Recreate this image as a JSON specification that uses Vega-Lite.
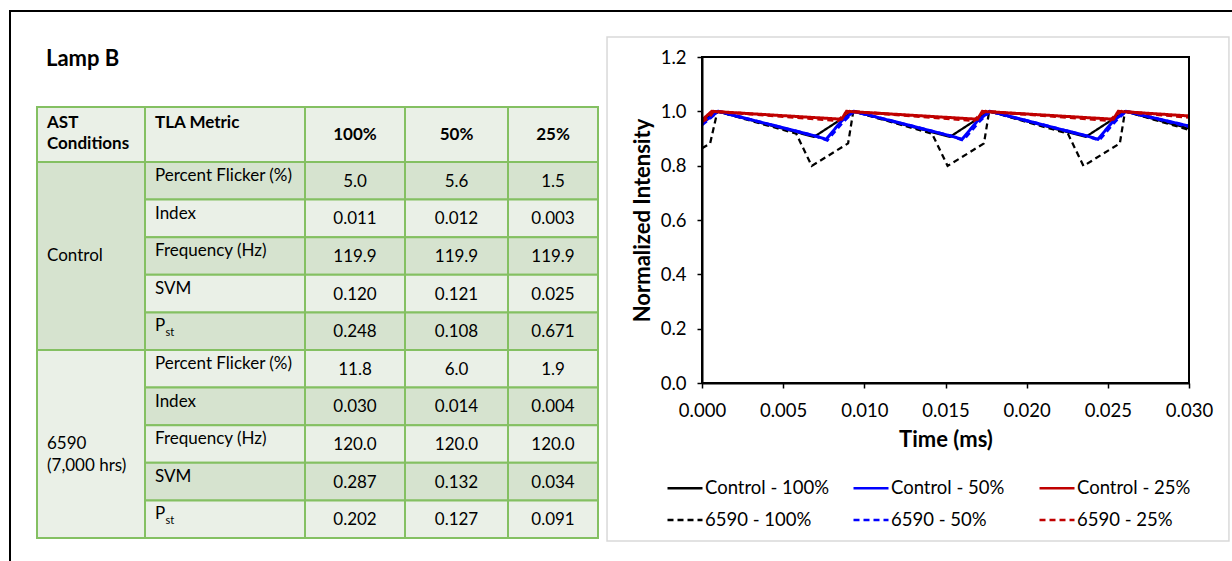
{
  "$schema": "https://vega.github.io/schema/vega-lite/v6.json",
  "width": 1240,
  "height": 560,
  "padding": {"left": 10, "top": 11, "right": 0, "bottom": 0},
  "autosize": {"type": "none"},
  "background": "white",
  "title": {
    "text": "Lamp B",
    "anchor": "start",
    "frame": "group",
    "dx": 36,
    "dy": 64,
    "font": "Lato",
    "fontSize": 22,
    "fontWeight": "bold",
    "color": "black"
  },
  "config": {
    "view": {"stroke": "black", "strokeWidth": 2},
    "font": "Lato",
    "text": {"font": "Lato", "color": "black"},
    "legend": {
      "orient": "none",
      "legendX": 656,
      "legendY": 458,
      "direction": "horizontal",
      "columns": 3,
      "gridAlign": "all",
      "symbolType": "stroke",
      "symbolSize": 1225,
      "symbolStrokeWidth": 2.5,
      "labelFont": "Lato",
      "labelFontSize": 18.5,
      "labelColor": "black",
      "labelOffset": 1,
      "labelLimit": 300,
      "columnPadding": 18,
      "rowPadding": 3,
      "padding": 0
    }
  },
  "datasets": {
    "cells": [
      {"c0": 0, "c1": 1, "r0": 0, "r1": 1, "kind": "corner", "text": "AST\nConditions"},
      {"c0": 1, "c1": 2, "r0": 0, "r1": 1, "kind": "corner", "text": "TLA Metric"},
      {"c0": 2, "c1": 3, "r0": 0, "r1": 1, "kind": "head", "text": "100%"},
      {"c0": 3, "c1": 4, "r0": 0, "r1": 1, "kind": "head", "text": "50%"},
      {"c0": 4, "c1": 5, "r0": 0, "r1": 1, "kind": "head", "text": "25%"},
      {"c0": 0, "c1": 1, "r0": 1, "r1": 6, "kind": "group", "text": "Control"},
      {"c0": 0, "c1": 1, "r0": 6, "r1": 11, "kind": "group", "text": "6590\n(7,000 hrs)"},
      {"c0": 1, "c1": 2, "r0": 1, "r1": 2, "kind": "metric", "text": "Percent Flicker (%)"},
      {"c0": 1, "c1": 2, "r0": 2, "r1": 3, "kind": "metric", "text": "Index"},
      {"c0": 1, "c1": 2, "r0": 3, "r1": 4, "kind": "metric", "text": "Frequency (Hz)"},
      {"c0": 1, "c1": 2, "r0": 4, "r1": 5, "kind": "metric", "text": "SVM"},
      {"c0": 1, "c1": 2, "r0": 5, "r1": 6, "kind": "metric", "text": "P", "sub": "st"},
      {"c0": 1, "c1": 2, "r0": 6, "r1": 7, "kind": "metric", "text": "Percent Flicker (%)"},
      {"c0": 1, "c1": 2, "r0": 7, "r1": 8, "kind": "metric", "text": "Index"},
      {"c0": 1, "c1": 2, "r0": 8, "r1": 9, "kind": "metric", "text": "Frequency (Hz)"},
      {"c0": 1, "c1": 2, "r0": 9, "r1": 10, "kind": "metric", "text": "SVM"},
      {"c0": 1, "c1": 2, "r0": 10, "r1": 11, "kind": "metric", "text": "P", "sub": "st"},
      {"c0": 2, "c1": 3, "r0": 1, "r1": 2, "kind": "value", "text": "5.0"},
      {"c0": 3, "c1": 4, "r0": 1, "r1": 2, "kind": "value", "text": "5.6"},
      {"c0": 4, "c1": 5, "r0": 1, "r1": 2, "kind": "value", "text": "1.5"},
      {"c0": 2, "c1": 3, "r0": 2, "r1": 3, "kind": "value", "text": "0.011"},
      {"c0": 3, "c1": 4, "r0": 2, "r1": 3, "kind": "value", "text": "0.012"},
      {"c0": 4, "c1": 5, "r0": 2, "r1": 3, "kind": "value", "text": "0.003"},
      {"c0": 2, "c1": 3, "r0": 3, "r1": 4, "kind": "value", "text": "119.9"},
      {"c0": 3, "c1": 4, "r0": 3, "r1": 4, "kind": "value", "text": "119.9"},
      {"c0": 4, "c1": 5, "r0": 3, "r1": 4, "kind": "value", "text": "119.9"},
      {"c0": 2, "c1": 3, "r0": 4, "r1": 5, "kind": "value", "text": "0.120"},
      {"c0": 3, "c1": 4, "r0": 4, "r1": 5, "kind": "value", "text": "0.121"},
      {"c0": 4, "c1": 5, "r0": 4, "r1": 5, "kind": "value", "text": "0.025"},
      {"c0": 2, "c1": 3, "r0": 5, "r1": 6, "kind": "value", "text": "0.248"},
      {"c0": 3, "c1": 4, "r0": 5, "r1": 6, "kind": "value", "text": "0.108"},
      {"c0": 4, "c1": 5, "r0": 5, "r1": 6, "kind": "value", "text": "0.671"},
      {"c0": 2, "c1": 3, "r0": 6, "r1": 7, "kind": "value", "text": "11.8"},
      {"c0": 3, "c1": 4, "r0": 6, "r1": 7, "kind": "value", "text": "6.0"},
      {"c0": 4, "c1": 5, "r0": 6, "r1": 7, "kind": "value", "text": "1.9"},
      {"c0": 2, "c1": 3, "r0": 7, "r1": 8, "kind": "value", "text": "0.030"},
      {"c0": 3, "c1": 4, "r0": 7, "r1": 8, "kind": "value", "text": "0.014"},
      {"c0": 4, "c1": 5, "r0": 7, "r1": 8, "kind": "value", "text": "0.004"},
      {"c0": 2, "c1": 3, "r0": 8, "r1": 9, "kind": "value", "text": "120.0"},
      {"c0": 3, "c1": 4, "r0": 8, "r1": 9, "kind": "value", "text": "120.0"},
      {"c0": 4, "c1": 5, "r0": 8, "r1": 9, "kind": "value", "text": "120.0"},
      {"c0": 2, "c1": 3, "r0": 9, "r1": 10, "kind": "value", "text": "0.287"},
      {"c0": 3, "c1": 4, "r0": 9, "r1": 10, "kind": "value", "text": "0.132"},
      {"c0": 4, "c1": 5, "r0": 9, "r1": 10, "kind": "value", "text": "0.034"},
      {"c0": 2, "c1": 3, "r0": 10, "r1": 11, "kind": "value", "text": "0.202"},
      {"c0": 3, "c1": 4, "r0": 10, "r1": 11, "kind": "value", "text": "0.127"},
      {"c0": 4, "c1": 5, "r0": 10, "r1": 11, "kind": "value", "text": "0.091"}
    ],
    "waves": [
      {"series": "Control - 100%", "t": 0, "v": 0.965},
      {"series": "Control - 100%", "t": 0.00095, "v": 1.0},
      {"series": "Control - 100%", "t": 0.0069, "v": 0.906},
      {"series": "Control - 100%", "t": 0.00932, "v": 1.0},
      {"series": "Control - 100%", "t": 0.01527, "v": 0.906},
      {"series": "Control - 100%", "t": 0.01769, "v": 1.0},
      {"series": "Control - 100%", "t": 0.02364, "v": 0.906},
      {"series": "Control - 100%", "t": 0.02606, "v": 1.0},
      {"series": "Control - 100%", "t": 0.03, "v": 0.937},

      {"series": "6590 - 100%", "t": 0, "v": 0.864},
      {"series": "6590 - 100%", "t": 0.0005, "v": 0.882},
      {"series": "6590 - 100%", "t": 0.00095, "v": 1.0},
      {"series": "6590 - 100%", "t": 0.0058, "v": 0.918},
      {"series": "6590 - 100%", "t": 0.00676, "v": 0.799},
      {"series": "6590 - 100%", "t": 0.009, "v": 0.882},
      {"series": "6590 - 100%", "t": 0.00932, "v": 1.0},
      {"series": "6590 - 100%", "t": 0.01417, "v": 0.918},
      {"series": "6590 - 100%", "t": 0.01513, "v": 0.799},
      {"series": "6590 - 100%", "t": 0.01737, "v": 0.882},
      {"series": "6590 - 100%", "t": 0.01769, "v": 1.0},
      {"series": "6590 - 100%", "t": 0.02254, "v": 0.918},
      {"series": "6590 - 100%", "t": 0.0235, "v": 0.799},
      {"series": "6590 - 100%", "t": 0.02574, "v": 0.882},
      {"series": "6590 - 100%", "t": 0.02606, "v": 1.0},
      {"series": "6590 - 100%", "t": 0.03, "v": 0.932},

      {"series": "Control - 50%", "t": 0, "v": 0.956},
      {"series": "Control - 50%", "t": 0.001, "v": 1.0},
      {"series": "Control - 50%", "t": 0.007, "v": 0.909},
      {"series": "Control - 50%", "t": 0.00765, "v": 0.897},
      {"series": "Control - 50%", "t": 0.0086, "v": 0.965},
      {"series": "Control - 50%", "t": 0.00937, "v": 1.0},
      {"series": "Control - 50%", "t": 0.01537, "v": 0.909},
      {"series": "Control - 50%", "t": 0.01602, "v": 0.897},
      {"series": "Control - 50%", "t": 0.01697, "v": 0.965},
      {"series": "Control - 50%", "t": 0.01774, "v": 1.0},
      {"series": "Control - 50%", "t": 0.02374, "v": 0.909},
      {"series": "Control - 50%", "t": 0.02439, "v": 0.897},
      {"series": "Control - 50%", "t": 0.02534, "v": 0.965},
      {"series": "Control - 50%", "t": 0.02611, "v": 1.0},
      {"series": "Control - 50%", "t": 0.03, "v": 0.946},

      {"series": "6590 - 50%", "t": 0, "v": 0.95},
      {"series": "6590 - 50%", "t": 0.001, "v": 1.0},
      {"series": "6590 - 50%", "t": 0.0071, "v": 0.907},
      {"series": "6590 - 50%", "t": 0.00772, "v": 0.894},
      {"series": "6590 - 50%", "t": 0.0087, "v": 0.962},
      {"series": "6590 - 50%", "t": 0.00937, "v": 1.0},
      {"series": "6590 - 50%", "t": 0.01547, "v": 0.907},
      {"series": "6590 - 50%", "t": 0.01609, "v": 0.894},
      {"series": "6590 - 50%", "t": 0.01707, "v": 0.962},
      {"series": "6590 - 50%", "t": 0.01774, "v": 1.0},
      {"series": "6590 - 50%", "t": 0.02384, "v": 0.907},
      {"series": "6590 - 50%", "t": 0.02446, "v": 0.894},
      {"series": "6590 - 50%", "t": 0.02544, "v": 0.962},
      {"series": "6590 - 50%", "t": 0.02611, "v": 1.0},
      {"series": "6590 - 50%", "t": 0.03, "v": 0.944},

      {"series": "Control - 25%", "t": 0, "v": 0.968},
      {"series": "Control - 25%", "t": 0.0006, "v": 1.0},
      {"series": "Control - 25%", "t": 0.0086, "v": 0.971},
      {"series": "Control - 25%", "t": 0.0089, "v": 1.0},
      {"series": "Control - 25%", "t": 0.01697, "v": 0.971},
      {"series": "Control - 25%", "t": 0.01727, "v": 1.0},
      {"series": "Control - 25%", "t": 0.02534, "v": 0.971},
      {"series": "Control - 25%", "t": 0.02564, "v": 1.0},
      {"series": "Control - 25%", "t": 0.03, "v": 0.983},

      {"series": "6590 - 25%", "t": 0, "v": 0.962},
      {"series": "6590 - 25%", "t": 0.0004, "v": 0.975},
      {"series": "6590 - 25%", "t": 0.0007, "v": 1.0},
      {"series": "6590 - 25%", "t": 0.0084, "v": 0.966},
      {"series": "6590 - 25%", "t": 0.0088, "v": 0.99},
      {"series": "6590 - 25%", "t": 0.0091, "v": 1.0},
      {"series": "6590 - 25%", "t": 0.01677, "v": 0.966},
      {"series": "6590 - 25%", "t": 0.01717, "v": 0.99},
      {"series": "6590 - 25%", "t": 0.01747, "v": 1.0},
      {"series": "6590 - 25%", "t": 0.02514, "v": 0.966},
      {"series": "6590 - 25%", "t": 0.02554, "v": 0.99},
      {"series": "6590 - 25%", "t": 0.02584, "v": 1.0},
      {"series": "6590 - 25%", "t": 0.03, "v": 0.978}
    ]
  },
  "layer": [
    {
      "data": {"name": "cells"},
      "transform": [
        {"calculate": "(datum.c0 + datum.c1) / 2", "as": "cm"},
        {"calculate": "(datum.r0 + datum.r1) / 2", "as": "rm"}
      ],
      "layer": [
        {
          "mark": {"type": "rect", "stroke": "#84C062", "strokeWidth": 2},
          "encoding": {
            "x": {"field": "c0", "type": "quantitative", "axis": null, "scale": {"domain": [0, 1, 2, 3, 4, 5], "range": [27, 135, 295, 395, 498, 588], "zero": false, "nice": false}},
            "x2": {"field": "c1"},
            "y": {"field": "r0", "type": "quantitative", "axis": null, "scale": {"domain": [0, 1, 11], "range": [96, 151, 527], "zero": false, "nice": false}},
            "y2": {"field": "r1"},
            "fill": {"condition": {"test": "datum.r0 % 2 == 1", "value": "#D6E3CF"}, "value": "#EAF0E7"}
          }
        },
        {
          "transform": [{"filter": "datum.kind == 'corner'"}],
          "mark": {"type": "text", "align": "left", "baseline": "top", "dx": 10, "dy": 8, "fontSize": 17, "fontWeight": "bold", "lineBreak": "\n", "lineHeight": 21},
          "encoding": {
            "x": {"field": "c0", "type": "quantitative", "axis": null, "scale": {"domain": [0, 1, 2, 3, 4, 5], "range": [27, 135, 295, 395, 498, 588], "zero": false, "nice": false}},
            "y": {"field": "r0", "type": "quantitative", "axis": null, "scale": {"domain": [0, 1, 11], "range": [96, 151, 527], "zero": false, "nice": false}},
            "text": {"field": "text"}
          }
        },
        {
          "transform": [{"filter": "datum.kind == 'head'"}],
          "mark": {"type": "text", "align": "center", "baseline": "middle", "fontSize": 17, "fontWeight": "bold"},
          "encoding": {
            "x": {"field": "cm", "type": "quantitative", "axis": null, "scale": {"domain": [0, 1, 2, 3, 4, 5], "range": [27, 135, 295, 395, 498, 588], "zero": false, "nice": false}},
            "y": {"field": "rm", "type": "quantitative", "axis": null, "scale": {"domain": [0, 1, 11], "range": [96, 151, 527], "zero": false, "nice": false}},
            "text": {"field": "text"}
          }
        },
        {
          "transform": [{"filter": "datum.kind == 'group'"}],
          "mark": {"type": "text", "align": "left", "baseline": "middle", "dx": 10, "fontSize": 17, "lineBreak": "\n", "lineHeight": 22},
          "encoding": {
            "x": {"field": "c0", "type": "quantitative", "axis": null, "scale": {"domain": [0, 1, 2, 3, 4, 5], "range": [27, 135, 295, 395, 498, 588], "zero": false, "nice": false}},
            "y": {"field": "rm", "type": "quantitative", "axis": null, "scale": {"domain": [0, 1, 11], "range": [96, 151, 527], "zero": false, "nice": false}},
            "text": {"field": "text"}
          }
        },
        {
          "transform": [{"filter": "datum.kind == 'metric'"}],
          "mark": {"type": "text", "align": "left", "baseline": "top", "dx": 10, "dy": 6, "fontSize": 17},
          "encoding": {
            "x": {"field": "c0", "type": "quantitative", "axis": null, "scale": {"domain": [0, 1, 2, 3, 4, 5], "range": [27, 135, 295, 395, 498, 588], "zero": false, "nice": false}},
            "y": {"field": "r0", "type": "quantitative", "axis": null, "scale": {"domain": [0, 1, 11], "range": [96, 151, 527], "zero": false, "nice": false}},
            "text": {"field": "text"}
          }
        },
        {
          "transform": [{"filter": "datum.sub"}],
          "mark": {"type": "text", "align": "left", "baseline": "top", "dx": 20.5, "dy": 15, "fontSize": 11},
          "encoding": {
            "x": {"field": "c0", "type": "quantitative", "axis": null, "scale": {"domain": [0, 1, 2, 3, 4, 5], "range": [27, 135, 295, 395, 498, 588], "zero": false, "nice": false}},
            "y": {"field": "r0", "type": "quantitative", "axis": null, "scale": {"domain": [0, 1, 11], "range": [96, 151, 527], "zero": false, "nice": false}},
            "text": {"field": "sub"}
          }
        },
        {
          "transform": [{"filter": "datum.kind == 'value'"}],
          "mark": {"type": "text", "align": "center", "baseline": "middle", "dy": 1, "fontSize": 17},
          "encoding": {
            "x": {"field": "cm", "type": "quantitative", "axis": null, "scale": {"domain": [0, 1, 2, 3, 4, 5], "range": [27, 135, 295, 395, 498, 588], "zero": false, "nice": false}},
            "y": {"field": "rm", "type": "quantitative", "axis": null, "scale": {"domain": [0, 1, 11], "range": [96, 151, 527], "zero": false, "nice": false}},
            "text": {"field": "text"}
          }
        }
      ]
    },
    {
      "layer": [
        {
          "data": {"values": [{}]},
          "mark": {"type": "rect", "fill": "transparent", "stroke": "#D9D9D9", "strokeWidth": 1.5, "clip": false},
          "encoding": {
            "x": {"datum": -0.00585, "type": "quantitative", "scale": {"domain": [0, 0.03], "range": [692, 1179], "zero": false, "nice": false}},
            "x2": {"datum": 0.03246},
            "y": {"datum": 1.2736, "type": "quantitative", "scale": {"domain": [0, 1.2], "range": [372, 46], "zero": false, "nice": false}},
            "y2": {"datum": -0.5816}
          }
        },
        {
          "data": {"name": "waves"},
          "transform": [{"filter": "indexof(datum.series, '100%') >= 0"}],
          "mark": {"type": "line", "clip": true, "strokeWidth": 2.25},
          "encoding": {
            "x": {
              "field": "t", "type": "quantitative",
              "scale": {"domain": [0, 0.03], "range": [692, 1179], "zero": false, "nice": false},
              "axis": {
                "orient": "bottom", "offset": -188, "zindex": 1, "values": [0, 0.005, 0.01, 0.015, 0.02, 0.025, 0.03], "format": ".3f",
                "labelFlush": false, "labelOverlap": false,
                "title": "Time (ms)", "titleFont": "Lato", "titleFontSize": 22, "titleFontWeight": "bold", "titleColor": "black", "titlePadding": 10,
                "labelFont": "Lato", "labelFontSize": 18.5, "labelColor": "black", "labelPadding": 13,
                "domainColor": "black", "domainWidth": 2, "tickColor": "black", "tickWidth": 1.5, "tickSize": 5, "grid": false
              }
            },
            "y": {
              "field": "v", "type": "quantitative",
              "scale": {"domain": [0, 1.2], "range": [372, 46], "zero": false, "nice": false},
              "axis": {
                "orient": "left", "offset": -692, "zindex": 1, "values": [0, 0.2, 0.4, 0.6, 0.8, 1.0, 1.2], "format": ".1f",
                "labelFlush": false, "labelOverlap": false,
                "title": "Normalized Intensity", "titleFont": "Lato", "titleFontSize": 22, "titleFontWeight": "bold", "titleColor": "black", "titlePadding": 6,
                "labelFont": "Lato", "labelFontSize": 18.5, "labelColor": "black", "labelPadding": 11,
                "domainColor": "black", "domainWidth": 2, "tickColor": "black", "tickWidth": 1.5, "tickSize": 5, "grid": false
              }
            },
            "color": {
              "field": "series", "type": "nominal", "title": null,
              "scale": {
                "domain": ["Control - 100%", "Control - 50%", "Control - 25%", "6590 - 100%", "6590 - 50%", "6590 - 25%"],
                "range": ["#000000", "#0000FF", "#C00000", "#000000", "#0000FF", "#C00000"]
              }
            },
            "strokeDash": {
              "field": "series", "type": "nominal", "title": null,
              "scale": {
                "domain": ["Control - 100%", "Control - 50%", "Control - 25%", "6590 - 100%", "6590 - 50%", "6590 - 25%"],
                "range": [[1, 0], [1, 0], [1, 0], [6, 4], [6, 4], [6, 4]]
              }
            }
          }
        },
        {
          "data": {"name": "waves"},
          "transform": [{"filter": "indexof(datum.series, '100%') < 0"}],
          "mark": {"type": "line", "clip": true, "strokeWidth": 3},
          "encoding": {
            "x": {"field": "t", "type": "quantitative", "scale": {"domain": [0, 0.03], "range": [692, 1179], "zero": false, "nice": false}},
            "y": {"field": "v", "type": "quantitative", "scale": {"domain": [0, 1.2], "range": [372, 46], "zero": false, "nice": false}},
            "color": {
              "field": "series", "type": "nominal", "title": null,
              "scale": {
                "domain": ["Control - 100%", "Control - 50%", "Control - 25%", "6590 - 100%", "6590 - 50%", "6590 - 25%"],
                "range": ["#000000", "#0000FF", "#C00000", "#000000", "#0000FF", "#C00000"]
              }
            },
            "strokeDash": {
              "field": "series", "type": "nominal", "title": null,
              "scale": {
                "domain": ["Control - 100%", "Control - 50%", "Control - 25%", "6590 - 100%", "6590 - 50%", "6590 - 25%"],
                "range": [[1, 0], [1, 0], [1, 0], [6, 4], [6, 4], [6, 4]]
              }
            }
          }
        },
        {
          "data": {"values": [{}]},
          "mark": {"type": "rect", "fill": "transparent", "stroke": "black", "strokeWidth": 2},
          "encoding": {
            "x": {"datum": 0, "type": "quantitative", "scale": {"domain": [0, 0.03], "range": [692, 1179], "zero": false, "nice": false}},
            "x2": {"datum": 0.03},
            "y": {"datum": 0, "type": "quantitative", "scale": {"domain": [0, 1.2], "range": [372, 46], "zero": false, "nice": false}},
            "y2": {"datum": 1.2}
          }
        }
      ]
    }
  ],
  "resolve": {
    "scale": {"x": "independent", "y": "independent"},
    "axis": {"x": "independent", "y": "independent"}
  }
}
